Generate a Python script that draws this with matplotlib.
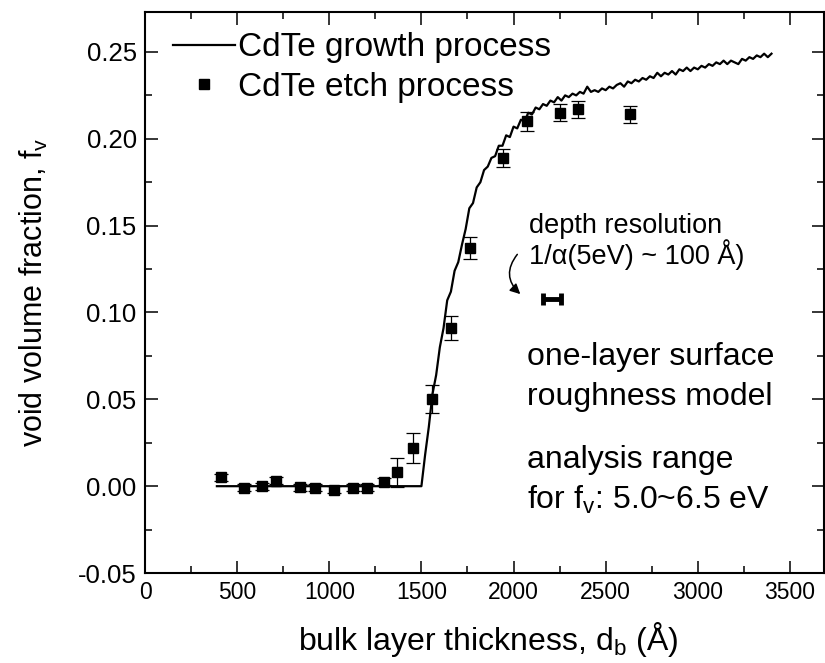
import numpy as np
import matplotlib
matplotlib.use("Agg")
import matplotlib.pyplot as plt
from matplotlib.ticker import MultipleLocator, FormatStrFormatter
from matplotlib.lines import Line2D

plt.rcParams['font.family'] = ['Liberation Sans', 'DejaVu Sans']
plt.rcParams['mathtext.fontset'] = 'custom'
plt.rcParams['mathtext.rm'] = 'Liberation Sans'

# etch process points (d_b in angstrom, f_v, error)
etch_x = [413, 536, 634, 712, 839, 924, 1023, 1127, 1205, 1295, 1370, 1455,
          1558, 1658, 1761, 1942, 2074, 2252, 2349, 2632]
etch_y = [0.005, -0.001, 0.000, 0.003, -0.0005, -0.001, -0.002, -0.001, -0.001,
          0.0025, 0.008, 0.022, 0.050, 0.091, 0.137, 0.189, 0.210, 0.215, 0.217, 0.214]
etch_err = [0.002, 0.002, 0.002, 0.002, 0.002, 0.002, 0.002, 0.002, 0.002,
            0.002, 0.0085, 0.0085, 0.008, 0.007, 0.0062, 0.0053, 0.0053, 0.005, 0.005, 0.005]

# growth process curve
growth_x = [390, 1500, 1520, 1540, 1560, 1580, 1600, 1620, 1640, 1660, 1680, 1700,
            1720, 1740, 1760, 1780, 1800, 1820, 1840, 1860, 1880, 1900, 1920, 1940,
            1960, 1980, 2000, 2020, 2040, 2060, 2080, 2100, 2120, 2140, 2160, 2180,
            2200, 2220, 2240, 2260, 2280, 2300, 2320, 2340, 2360, 2380, 2400, 2420,
            2440, 2460, 2480, 2500, 2520, 2540, 2560, 2580, 2600, 2620, 2640, 2660,
            2680, 2700, 2720, 2740, 2760, 2780, 2800, 2820, 2840, 2860, 2880, 2900,
            2920, 2940, 2960, 2980, 3000, 3020, 3040, 3060, 3080, 3100, 3120, 3140,
            3160, 3180, 3200, 3220, 3240, 3260, 3280, 3300, 3320, 3340, 3360, 3380, 3400]
growth_y = [0.000, 0.000, 0.018, 0.034, 0.053, 0.064, 0.080, 0.091, 0.107, 0.112, 0.124, 0.129,
            0.139, 0.148, 0.160, 0.163, 0.172, 0.175, 0.182, 0.184, 0.189, 0.190, 0.196, 0.196,
            0.202, 0.201, 0.207, 0.206, 0.211, 0.210, 0.215, 0.214, 0.218, 0.217, 0.220, 0.219,
            0.222, 0.221, 0.224, 0.222, 0.225, 0.224, 0.226, 0.225, 0.227, 0.226, 0.230, 0.227,
            0.228, 0.227, 0.229, 0.228, 0.230, 0.229, 0.231, 0.232, 0.230, 0.233, 0.232, 0.234,
            0.233, 0.235, 0.234, 0.236, 0.235, 0.238, 0.236, 0.238, 0.237, 0.239, 0.237, 0.240,
            0.239, 0.241, 0.239, 0.241, 0.240, 0.242, 0.241, 0.243, 0.242, 0.244, 0.243, 0.245,
            0.243, 0.245, 0.244, 0.243, 0.246, 0.245, 0.247, 0.246, 0.248, 0.247, 0.249, 0.247, 0.249]

# depth resolution marker
res_x, res_y, res_half = 2210, 0.108, 50

fig = plt.figure(figsize=(8.25, 6.63), dpi=100)
ax = fig.add_axes([0.1758, 0.1357, 0.8230, 0.8462])

ax.plot(growth_x, growth_y, color='black', lw=1.6)
ax.errorbar(etch_x, etch_y, yerr=etch_err, fmt='s', color='black', ms=7.5,
            elinewidth=0.9, capsize=4.7, capthick=0.9)
ax.errorbar([res_x], [res_y], xerr=[res_half], fmt='none', ecolor='black',
            elinewidth=3.5, capsize=4.5, capthick=3.5)

ax.annotate('', xy=(2048, 0.1095), xytext=(2030, 0.1347),
            arrowprops=dict(arrowstyle='-|>', color='black', lw=1.1,
                            connectionstyle='arc3,rad=0.5', mutation_scale=15))

ax.text(2082, 0.150, 'depth resolution', fontsize=19.5, va='center', ha='left')
ax.text(2082, 0.1335, '1/α(5eV) ~ 100 Å)', fontsize=19.5, va='center', ha='left')
ax.text(2075, 0.0741, 'one-layer surface', fontsize=23, va='center', ha='left')
ax.text(2075, 0.0511, 'roughness model', fontsize=23, va='center', ha='left')
ax.text(2075, 0.0149, 'analysis range', fontsize=23, va='center', ha='left')
ax.text(2075, -0.0080, 'for f$_\\mathregular{v}$: 5.0~6.5 eV', fontsize=23,
        va='center', ha='left')

ax.set_xlim(0, 3685)
ax.set_ylim(-0.05, 0.273)
ax.xaxis.set_major_locator(MultipleLocator(500))
ax.xaxis.set_minor_locator(MultipleLocator(250))
ax.yaxis.set_major_locator(MultipleLocator(0.05))
ax.yaxis.set_minor_locator(MultipleLocator(0.025))
ax.yaxis.set_major_formatter(FormatStrFormatter('%.2f'))
ax.tick_params(which='both', direction='in', top=True, right=True, width=1.1)
ax.tick_params(which='major', length=9, pad=6)
ax.tick_params(which='minor', length=5)
ax.tick_params(axis='x', labelsize=16.5)
ax.tick_params(axis='y', labelsize=18.5)
for s in ax.spines.values():
    s.set_linewidth(1.5)

ax.set_xlabel('bulk layer thickness, d$_\\mathregular{b}$ (Å)', fontsize=23)
ax.set_ylabel('void volume fraction, f$_\\mathregular{v}$', fontsize=22)
ax.xaxis.set_label_coords(0.505, -0.083)
ax.yaxis.set_label_coords(-0.14, 0.5)

handles = [Line2D([], [], color='black', lw=1.6),
           Line2D([], [], color='black', marker='s', ls='none', ms=7.5)]
ax.legend(handles, ['CdTe growth process', 'CdTe etch process'],
          loc='upper left', bbox_to_anchor=(0.041, 0.964), frameon=False,
          fontsize=24, handlelength=1.85, handletextpad=0.1, labelspacing=0.26,
          borderaxespad=0, borderpad=0)

fig.savefig('out.png', dpi=100)
